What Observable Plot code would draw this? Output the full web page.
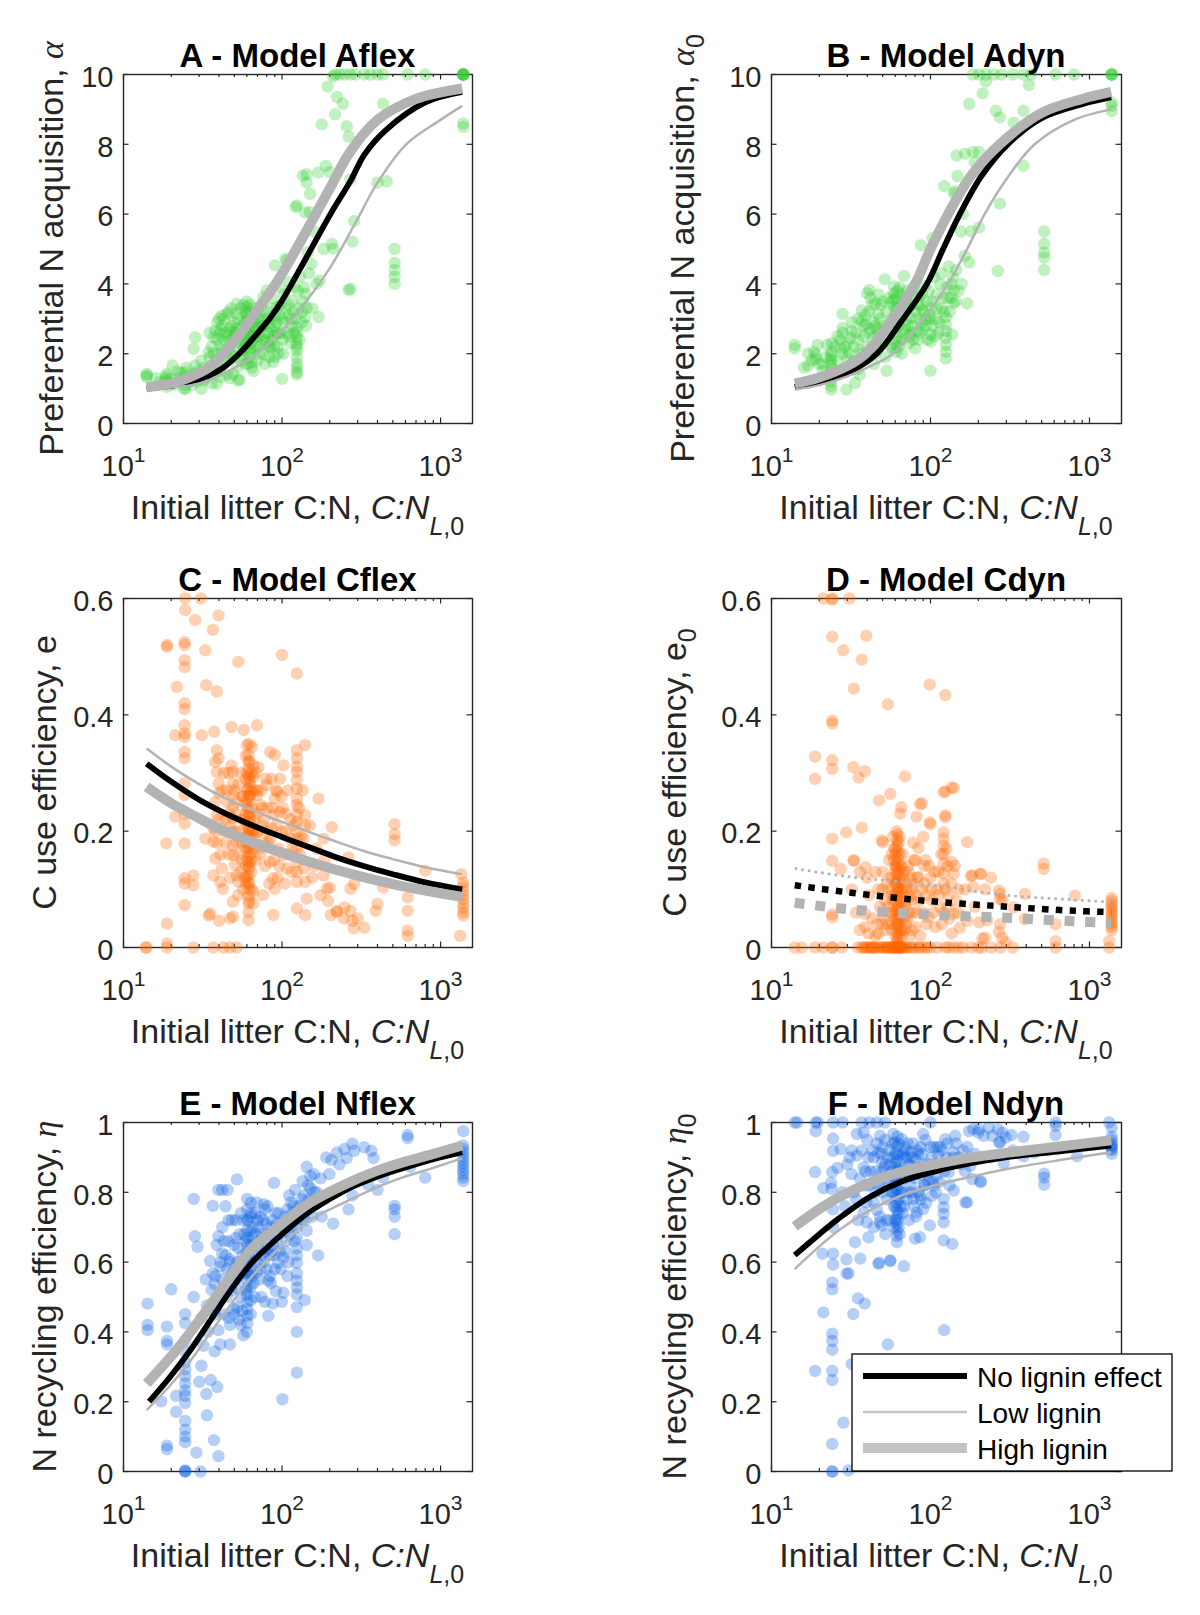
<!DOCTYPE html>
<html><head><meta charset="utf-8">
<script src="https://cdn.jsdelivr.net/npm/d3@7"></script>
<script src="https://cdn.jsdelivr.net/npm/@observablehq/plot@0.6"></script>
<style>
body{margin:0;background:#fff;}
#root{position:relative;width:1200px;height:1615px;overflow:hidden;background:#fff;}
.panel{position:absolute;width:600px;height:540px;}
</style></head><body><div id="root"></div>
<script>
// ---------- tick values ----------
const xTicksMajor = [10, 100, 1000];
const xTicksMinor = [20,30,40,50,60,70,80,90,200,300,400,500,600,700,800,900];
const yTicksAlpha = [0,2,4,6,8,10];
const yTicksE = [0,0.2,0.4,0.6];
const yTicksEta = [0,0.2,0.4,0.6,0.8,1];

// ---------- panel titles ----------
const titles = ["A - Model Aflex","B - Model Adyn","C - Model Cflex","D - Model Cdyn","E - Model Nflex","F - Model Ndyn"];
const legendLabels = ["No lignin effect","Low lignin","High lignin"];

// ---------- scatter data [C:N, value] ----------
const aflexPts = [[14,1.42],[14,1.33],[14,1.38],
[18.7,1.42],[18.5,1.28],[18.6,1.35],[20.4,1.66],[19.5,1.14],[18.8,1.05],[18.8,1.2],
[24.4,1.47],[24,1.23],[24.2,0.99],[24.5,1.1],[24.5,1.35],[24.5,1.0],[23,1.45],
[28.3,1.66],[27.7,1.42],[27.7,2.14],[28.3,2.47],[31,0.99],[31.9,1.23],[29.3,1.5],[30.5,1.3],
[34.4,2.04],[36,1.66],[37,2.47],[37.9,2.66],[36,1.14],[38.8,1.14],[35,1.9],
[40.8,1.33],[40.8,2.0],[40.8,2.23],[40.8,2.57],[41.7,3.09],[44.9,3.14],[43.8,1.76],[42,2.8],[40,3.0],[43,2.4],[41,1.6],
[47,2.71],[47,2.38],[48,2.0],[49,2.62],[49,1.42],[51.8,3.14],[51.8,3.43],[53,1.23],[55.7,1.8],[47,1.3],[50,2.9],[52,2.2],[54,1.26],
[60,3.33],[60,3.14],[60,2.95],[61.5,2.76],[60.5,2.57],[62.8,2.28],[62.8,2.0],[64.5,1.76],[64.5,1.61],[67.8,2.14],[69.5,2.47],[58,2.5],[60,3.5],[62,3.2],[63,2.9],[59,2.3],[57,1.9],[61,1.7],[65,2.6],[66,3.0],
[73,3.14],[73,2.76],[74.5,2.33],[76,3.62],[76,2.0],[80,3.81],[84,2.76],[84,2.19],[88,1.76],[90.3,4.53],[93,3.33],[95.5,2.57],[100,1.28],[102,2.0],[97,3.9],[78,1.7],[82,3.0],[86,2.4],[70,1.8],[92,2.9],
[107,4.67],[112,4.05],[116,3.52],[105,4.72],[110,3.1],[108,2.6],[113,2.3],
[124,2.76],[124,2.47],[124,2.28],[124,2.09],[124,1.9],[124,1.71],[124,1.47],[124,1.4],[124,2.6],[124,2.2],[124,1.6],
[140,3.05],[143,3.33],[140,3.72],[153,4.57],[150,6.06],[170,3.05],[173,4.1],[183,5.0],[206,5.15],[270,3.86],[124,6.25],[140,6.05],[150,6.58],[130,4.2],[135,3.5],[145,4.9],[160,5.5],[165,4.0],
[122,6.2],[143,7.14],[169,7.19],[189,7.38],[178,8.57],[143,6.9],[210,9.95],[194,9.65],[222,9.36],[242,9.16],[216,8.86],[256,8.52],[263,8.22],[270,7.0],[285,5.8],[263,3.83],[434,9.16],[457,6.94],[400,6.9],[278,5.21],[210,5.01],[135,7.1],[200,7.2],
[216,10],[248,10],[270,10],[330,10],[400,10],[434,10],[620,10],[800,10],[230,10],[290,10],[360,10],
[513,4.0],[513,4.2],[513,4.4],[513,4.6],[513,5.0],
[1390,10],[1390,10],[1390,10],[1390,10],[1390,10],[1390,8.5],[1390,8.6],[1390,10],
[36,2.2],[38,1.8],[39,2.9],[42,2.1],[44,2.6],[46,3.2],[45,1.9],[48,2.8],[50,2.5],[52,2.7],[55,3.3],[56,2.4],[57,2.1],[58,2.9],[59,3.2],[61,2.4],[62,1.9],[64,2.3],[65,2.9],[67,3.3],[68,2.7],[70,2.2],[71,3.0],[72,2.5],[75,2.8],[77,2.4],[79,3.2],[81,2.6],[83,2.2],[86,3.3],[88,2.5],[90,2.8],[94,2.2],[96,3.1],[99,2.6],[104,2.9],[106,3.3],[115,2.8],[118,3.2],[120,3.9],[127,3.3],[133,2.9],[138,3.9],[148,4.3],[155,3.3],
[16,1.3],[17,1.2],[21,1.1],[22,1.3],[26,1.2],[27,1.1],[29,1.2],[33,1.3],[32,1.6],[34,1.5],
[37,2.0],[39,2.4],[41,2.7],[43,3.0],[45,2.5],[46,2.1],[48,3.3],[50,1.9],[51,2.6],[53,3.0],[54,2.3],[56,2.8],[57,3.4],[58,2.2],[59,2.7],[61,3.0],[62,2.6],[63,3.4],[64,2.1],[66,2.5],[67,2.9],[69,3.2],[70,2.6],[72,2.0],[74,3.4],[76,2.8],[78,3.0],[80,2.3],[82,2.6],[85,2.9],[87,3.6],[89,2.2],[91,3.1],[93,2.6],[98,3.4],[101,2.4],[103,3.7],[109,3.4],[111,2.5],[114,3.0],[119,2.6],[121,3.0],[126,3.8],[129,2.4],[134,3.2],[142,2.8],[100,3.0],[95,2.0],[90,1.9],[83,1.9],[66,1.5],[59,1.7],[52,1.6],[45,1.4],[38,1.5],[31,1.8],[25,1.6],[22,1.5],[20,1.3],[35,2.6]];

const adynPts = [[14,2.25],[14,2.15],
[19,1.95],[18.5,2.05],[17,1.66],[19.5,2.25],[18,1.8],[19,1.85],
[23.7,1.86],[23.7,1.76],[23.7,1.95],[23.7,1.66],[23.7,1.07],[23.7,0.97],[22.4,2.25],[23.7,2.05],[23.7,1.55],[23.7,1.2],[21,1.5],
[28,3.14],[28,2.74],[27.3,2.15],[29.6,0.97],[33.5,1.16],[35,1.56],[31.3,2.45],[32,2.65],[28,2.6],[30,1.9],[26,1.4],[33,1.8],[36,1.4],
[37,3.24],[37,2.94],[39,2.84],[40,3.73],[41.3,3.83],[44.8,3.44],[47,3.14],[43.7,2.45],[46,2.15],[53,1.51],[51.6,4.13],[38,2.5],[42,2.7],[45,2.0],[40,2.2],[48,2.6],[50,2.3],[52,1.9],[44,1.7],
[59,3.93],[59,3.73],[59,3.53],[59,3.34],[61,2.74],[61,2.25],[61,2.05],[68,4.23],[68,3.44],[70,2.94],[76,3.04],[80,2.15],[83,2.65],[85,3.63],[89,3.24],[92,3.93],[60,3.1],[60,2.9],[62,2.5],[63,2.35],[58,2.15],[65,3.7],[72,3.3],[75,2.6],[78,2.4],[66,2.0],[88,2.9],[95,3.5],
[87,5.11],[100,1.51],[100,2.35],[100,2.55],[103,5.31],[98,3.0],[105,4.2],[110,3.7],
[125,3.04],[125,2.84],[125,2.65],[125,2.45],[125,2.25],[125,2.05],[125,1.86],[122,6.8],[140,6.6],[143,6.65],[140,3.83],[140,3.44],[137,2.55],[148,7.09],[130,4.5],[135,4.0],[120,3.6],
[170,3.44],[175,4.62],[180,5.51],[202,5.61],[146,7.68],[165,7.73],[185,7.78],[202,7.78],[190,7.48],[207,7.19],[175,9.16],[213,9.46],[258,8.96],[273,8.77],[333,8.62],[384,8.96],[384,7.38],[305,8.17],[273,6.3],[265,4.37],[416,9.7],[223,9.8],[155,5.5],[160,6.0],
[185,10],[202,10],[223,10],[250,10],[280,10],[330,10],[384,10],[430,10],[612,10],[800,10],
[519,5.5],[519,5.15],[519,4.9],[519,4.75],[519,4.4],
[1380,10],[1380,10],[1380,10],[1380,10],[1380,9.2],[1380,9.1],[1380,8.95],
[36,2.1],[38,2.8],[41,3.2],[43,2.2],[45,2.8],[47,2.4],[49,3.4],[51,2.8],[54,2.5],[55,3.6],[57,3.0],[58,2.6],[60,3.6],[62,3.3],[63,2.8],[64,3.9],[66,2.4],[67,3.1],[69,2.7],[71,3.8],[73,2.3],[74,3.4],[77,2.8],[79,3.6],[82,3.0],[84,2.4],[87,3.4],[90,2.7],[93,3.0],[96,2.4],[101,3.3],[104,2.8],[108,3.0],[112,2.6],[115,4.0],[118,3.3],[128,3.6],[132,3.2],[145,4.4],[150,3.8],[20,1.7],[22,1.9],[25,2.2],[26,1.8],[27,2.4],[29,2.2],[31,2.0],[34,2.6],
[35,2.4],[37,2.0],[39,3.1],[41,2.6],[43,3.4],[44,2.9],[46,2.7],[48,3.0],[50,3.5],[52,2.7],[53,3.2],[56,2.2],[57,3.5],[59,2.9],[61,3.3],[62,3.8],[63,2.2],[65,3.2],[67,3.5],[68,2.6],[70,3.6],[72,2.8],[74,2.5],[76,3.4],[78,3.9],[80,3.2],[83,3.4],[86,2.6],[88,3.7],[91,3.2],[94,2.8],[97,3.8],[99,3.1],[103,3.5],[107,2.5],[110,3.3],[113,2.9],[117,4.3],[122,3.2],[127,3.9],[134,3.6],[138,4.2],[144,3.5],[157,4.0],[164,4.8],[24,2.3],[26,2.5],[28,2.0],[30,2.3],[32,2.9],[33,2.2],[17,2.0],[21,1.7],[16,1.6],[35,3.0],[42,3.6],[47,3.7]];

const cflexPts = [[14,0],[13.8,0],[18.8,0.007],[18.8,0],[18.8,0.041],[18.6,0.179],[18.8,0.517],[18.8,0.52],
[21.2,0.365],[21.7,0.448],[21.2,0.225],
[24.5,0.6],[24.5,0.58],[24.3,0.525],[24.3,0.52],[24.3,0.494],[24.3,0.482],[24.3,0.42],[24.3,0.41],[24.3,0.382],[24.3,0.368],[24.3,0.362],[24.3,0.336],[24.3,0.325],[24.3,0.282],[24.3,0.262],[24.3,0.213],[24.3,0.179],[24.3,0.119],[24.3,0.073],[24.3,0.11],[24.3,0.23],
[27.6,0.124],[27.6,0.107],[27.6,0],[28.3,0.563],[30.8,0.6],[31.2,0.365],[32.8,0.511],[33.3,0.451],[32.8,0.187],[35.2,0.058],[36.6,0.546],[36.9,0],[37.3,0.371],[38.8,0.44],[39.8,0.571],
[38.8,0.339],[39.8,0.325],[37.9,0.319],[38.8,0.302],[39.8,0.282],[37.9,0.25],[38.8,0.227],[36.9,0.205],[36.9,0.182],[37.9,0.153],[36.9,0.124],[41.7,0.136],[40.8,0.113],[42.3,0.101],[42.7,0],[47,0],[51.8,0],[47,0.05],[34.5,0.055],[40,0.046],[40,0.265],[38,0.2],
[48,0.379],[53,0.491],[57.4,0.374],[48,0.313],[49,0.302],[49,0.282],[49,0.262],[49,0.242],[49,0.222],[48,0.199],[49,0.176],[49,0.159],[50.5,0.142],[51.8,0.124],[53,0.113],[49,0.079],[49,0.053],[45,0.27],[46,0.23],[52,0.25],[55,0.2],[44,0.18],[54,0.16],
[61.5,0.331],[61.5,0.319],[61.5,0.308],[61.5,0.296],[61.5,0.285],[61.5,0.273],[61.5,0.262],[61.5,0.25],[61.5,0.239],[61.5,0.228],[61.5,0.216],[61.5,0.205],[61.5,0.193],[61.5,0.182],[61.5,0.17],[61.5,0.159],[61.5,0.147],[61.5,0.136],[61.5,0.124],[61.5,0.113],[61.5,0.101],[61.5,0.09],[61.5,0.076],[61.5,0.061],[61.5,0.047],[60,0.3],[60,0.27],[60,0.24],[60,0.21],[60,0.18],[63,0.26],[63,0.22],[63,0.19],[63,0.16],[63,0.28],
[60,0.348],[64.5,0.345],[66,0.313],[66,0.293],[69.5,0.382],[69.5,0.262],[73,0.245],[69.5,0.199],[66,0.096],[66,0.076],[76,0.09],[80,0.279],[84,0.336],[90,0.331],[90,0.256],[93,0.268],[88,0.228],[86,0.205],[84,0.187],[84,0.147],[88,0.119],[90,0.101],[88,0.056],[102,0.313],[100,0.503],[97,0.233],[100,0.199],[102,0.159],[107,0.136],[112,0.187],[70,0.23],[72,0.17],[75,0.21],[78,0.14],[80,0.2],[68,0.15],[95,0.17],[104,0.11],
[124,0.339],[124,0.325],[124,0.311],[124,0.302],[124,0.288],[124,0.273],[124,0.256],[124,0.245],[124,0.228],[124,0.216],[124,0.199],[124,0.187],[124,0.17],[124,0.147],[124,0.13],[124,0.113],[124,0.471],[124,0.067],
[140,0.348],[140,0.228],[140,0.21],[137,0.187],[137,0.136],[140,0.113],[143,0.084],[140,0.056],[130,0.16],
[170,0.256],[183,0.187],[183,0.124],[192,0.101],[206,0.207],[203,0.056],[221,0.061],[245,0.05],[270,0.101],[284,0.033],[300,0.05],[160,0.14],[175,0.09],
[200,0.103],[222,0.063],[248,0.069],[263,0.155],[270,0.063],[278,0.046],[285,0.109],[330,0.034],[400,0.075],[390,0.063],[434,0.103],[513,0.212],[513,0.195],[513,0.184],[620,0.086],[620,0.063],[620,0.029],[620,0.02],[800,0.132],[1350,0.126],
[1390,0.112],[1390,0.105],[1390,0.098],[1390,0.09],[1390,0.083],[1390,0.075],[1390,0.068],[1390,0.06],[1390,0.055],[1330,0.02],
[55,0.3],[57,0.26],[58,0.22],[59,0.19],[56,0.15],[58,0.12],[64,0.3],[65,0.24],[65,0.2],[66,0.17],[64,0.13],[67,0.27],[62,0.35],[44,0.22],[43,0.3],[46,0.16],[47,0.12],[51,0.2],[53,0.28],[71,0.31],[74,0.27],[77,0.18],[81,0.24],[83,0.11],[86,0.29],[92,0.21],[96,0.14],[99,0.26],[105,0.23],[110,0.16],[115,0.13],[118,0.21],[128,0.24],[132,0.19],[135,0.27],[150,0.21],[155,0.12],[165,0.17],[185,0.15],[195,0.08],
[59,0.33],[59,0.29],[59,0.25],[59,0.23],[59,0.17],[59,0.14],[59,0.11],[62,0.32],[62,0.29],[62,0.26],[62,0.23],[62,0.2],[62,0.17],[62,0.14],[62,0.11],[62,0.08],[64,0.27],[64,0.21],[64,0.18],[64,0.15],[64,0.1],[60,0.15],[60,0.12],[56,0.26],[56,0.22],[56,0.18],[67,0.22],[67,0.19],[68,0.3],[70,0.27],[71,0.2],[73,0.16],[75,0.24],[77,0.22],[79,0.29],[82,0.18],[87,0.24],[89,0.15],[92,0.27],[94,0.12],[97,0.29],[101,0.24],[106,0.2],[109,0.27],[113,0.22],[116,0.17],[50,0.27],[51,0.23],[47,0.21],[45,0.25],[43,0.2],[41,0.16],[40,0.22],[42,0.27],[39,0.18],[46,0.3],[52,0.18],[55,0.13],[57,0.1],[53,0.09]];

const cdynPts = [[21.2,0.6],[24.1,0.6],[24.1,0.598],[30.9,0.6],[24.1,0.534],[28.3,0.511],[39.5,0.536],[37,0.495],[33,0.445],[53.9,0.418],[99,0.452],[124,0.434],
[24.1,0.39],[24.1,0.385],[24.1,0.322],[24.1,0.307],[18.8,0.328],[18.8,0.29],[32.7,0.31],[38.6,0.303],[35.3,0.292],[69,0.294],[47.5,0.253],[55.9,0.264],[124,0.268],[140,0.274],[65.6,0.241],[86,0.246],[81.6,0.225],[100,0.212],[124,0.227],[124,0.224],[24.1,0.187],[29.5,0.198],[37,0.206],[50.2,0.181],[170,0.181],[24.1,0.149],[27.2,0.135],[33,0.149],[39,0.138],[515,0.144],[515,0.135],[180,0.123],[207,0.126],[24.1,0.057],[24.1,0.052],
[49.5,0.184],[64.5,0.23],[88,0.248],[99,0.215],[121,0.267],[136,0.275],[121,0.198],[121,0.187],[121,0.175],[121,0.161],[121,0.144],[121,0.127],[136,0.147],[140,0.127],[183,0.124],[206,0.127],[186,0.104],[270,0.098],[284,0.081],[227,0.047],[270,0.027],[297,0.009],[212,0.015],[84,0.171],[80,0.15],[93,0.15],[84,0.121],[76,0.081],[80,0.035],[102,0.081],[97,0.052],[107,0.035],[140,0.058],[136,0.024],[38.8,0.058],[38.8,0.035],[40.8,0.024],[49.5,0.041],[47,0.024],[32.8,0.15],
[62,0.195],[62,0.185],[62,0.175],[62,0.165],[62,0.155],[62,0.145],[62,0.135],[62,0.125],[62,0.115],[62,0.105],[62,0.095],[62,0.085],[62,0.075],[62,0.065],[62,0.055],[62,0.045],[62,0.035],[62,0.025],[62,0.015],[62,0.005],[60,0.17],[60,0.14],[60,0.11],[60,0.08],[60,0.05],[60,0.02],[64,0.16],[64,0.12],[64,0.09],[64,0.06],[64,0.03],[64,0],[61,0],[63,0],[58,0.12],[58,0.08],[58,0.04],[66,0.1],[66,0.07],[66,0.14],[57,0.16],[68,0.05],
[110,0.1],[115,0.07],[130,0.09],[150,0.1],[145,0.08],[100,0.12],[95,0.09],[90,0.06],[85,0.08],[75,0.12],[70,0.1],[72,0.14],[78,0.18],[90,0.19],[121,0.11],[121,0.06],[50,0.1],[45,0.13],
[14,0],[15.5,0],[18.8,0],[21,0],[24.1,0],[24.1,0],[27.7,0],[35,0],[37,0],[39,0],[41,0],[43,0],[45,0],[47,0],[50,0],[53,0],[56,0],[67,0],[70,0],[75,0],[80,0],[87,0],[95,0],[110,0],[124,0],[140,0],[160,0],[180,0],[210,0],[240,0],[330,0],[612,0],[1330,0],
[393,0.049],[612,0.04],[612,0.011],[274,0.083],[274,0.092],[333,0.069],[393,0.092],[810,0.089],[1330,0.011],
[1380,0.085],[1380,0.08],[1380,0.075],[1380,0.07],[1380,0.065],[1380,0.06],[1380,0.055],[1380,0.05],[1380,0.045],[1380,0.04],[1380,0.035],[1380,0.03],
[202,0.043],[220,0.017],[170,0.046],[153,0.034],[274,0.04],[282,0.017],[220,0.1],[240,0.12],
[55,0.1],[56,0.06],[57,0.03],[59,0.15],[59,0.09],[59,0],[60,0],[62,0],[62,0],[65,0],[66,0.03],[67,0.12],[68,0.09],[69,0.07],[70,0.04],[71,0.11],[73,0.06],[74,0.09],[76,0.03],[78,0.11],[82,0.06],[86,0.02],[92,0.11],[98,0.14],[104,0.06],[112,0.13],[118,0.04],[124,0.1],[128,0.14],[131,0.05],[150,0.06],[165,0.1],[190,0.07],[50,0],[52,0.03],[54,0.07],[44,0],[46,0.04],[48,0],[55,0],[57,0],[58,0],[63,0.02],[61,0.06],[63,0.1],[61,0.14],[63,0.18],[61,0.2],[38,0],[40,0],[42,0],[44,0],
[58,0.19],[59,0.17],[60,0.16],[60,0.13],[61,0.11],[61,0.09],[61,0.04],[62,0.01],[63,0.13],[63,0.07],[63,0.04],[64,0.19],[64,0.14],[65,0.11],[65,0.08],[65,0.05],[66,0.02],[57,0.09],[57,0.06],[56,0.12],[55,0.15],[54,0.04],[53,0.11],[52,0.08],[51,0.05],[50,0.13],[67,0.16],[68,0.13],[69,0.03],[71,0.08],[72,0.05],[73,0.13],[74,0.02],[76,0.1],[77,0.06],[79,0.15],[81,0.09],[83,0.12],[88,0.1],[91,0.14],[94,0.04],[101,0.1],[106,0.13],[113,0.09],[117,0.16],[126,0.17],[129,0.07],[135,0.11],[142,0.14],[48,0.07],[47,0.1],[45,0.02],[43,0.05],[41,0.09],[40,0.12],[36,0.03],[34,0.06],[32,0.1],[36,0.13],[52,0],[54,0],[58,0],[64,0],[66,0],[68,0],[72,0],[78,0],[85,0],[92,0],[100,0],[130,0],[150,0],[200,0],[275,0]];

const nflexPts = [[14.2,0.405],[14.2,0.42],[14.2,0.481],
[18.8,0.415],[18.8,0.374],[18.8,0.364],[18.8,0.074],[18.8,0.064],[20,0.522],[17.3,0.201],[21.5,0.171],[21.5,0.217],
[24.5,0.451],[24.5,0.425],[24.5,0.374],[24.5,0.344],[24.5,0.313],[24.5,0.293],[24.5,0.273],[24.5,0.252],[24.5,0.232],[24.5,0.217],[24.5,0.196],[24.5,0.145],[24.5,0.12],[24.5,0.1],[24.5,0.084],[24.5,0.003],[24.5,0],[24.5,0],
[27.7,0.781],[28.2,0.674],[29.3,0.644],[27.7,0.5],[28.8,0.054],[30.6,0],[30.1,0.257],[31,0.303],[33.3,0.222],[33.6,0.161],[35.5,0.262],[39,0.242],[37.2,0.09],[39.7,0.044],
[36.6,0.761],[39.7,0.807],[42,0.807],[45.3,0.807],[51.9,0.837],[48.3,0.72],[39.7,0.674],[38.7,0.649],[35.2,0.603],[36.6,0.568],[37.6,0.537],[33.6,0.476],[38.7,0.486],[39.7,0.405],[40.8,0.364],[37.6,0.344],[46.9,0.364],[40.8,0.588],[41.9,0.624],[46.9,0.608],[48.3,0.568],[50.9,0.527],[49.8,0.466],[53.6,0.435],[57,0.39],[50.9,0.669],[49.8,0.649],[45,0.5],[43,0.45],[42,0.55],[47,0.42],[52,0.6],
[60.3,0.781],[60.3,0.751],[60.3,0.72],[60.3,0.69],[60.3,0.669],[60.3,0.649],[60.3,0.629],[60.3,0.608],[60.3,0.588],[60.3,0.568],[60.3,0.547],[60.3,0.527],[60.3,0.507],[60.3,0.486],[60.3,0.466],[60.3,0.446],[60.3,0.425],
[63.5,0.77],[63.5,0.73],[63.5,0.69],[63.5,0.65],[63.5,0.61],[63.5,0.57],[63.5,0.53],[63.5,0.49],[63.5,0.45],
[69.2,0.771],[73.3,0.73],[76.8,0.766],[78,0.751],[76.8,0.669],[81.9,0.629],[81.9,0.547],[78,0.486],[81.9,0.446],[89,0.827],[91.4,0.741],[94,0.598],[91.4,0.517],[87.3,0.481],[99.6,0.486],[102,0.512],[102,0.613],[100.6,0.207],[105,0.69],[108,0.751],[111,0.791],[114,0.771],[121,0.807],[70,0.6],[72,0.55],[85,0.7],[88,0.65],[95,0.68],[68,0.68],
[124,0.7],[124,0.669],[124,0.639],[124,0.619],[124,0.598],[124,0.568],[124,0.547],[124,0.527],[124,0.507],[124,0.471],[124,0.4],[124,0.283],
[139,0.491],[143,0.649],[143,0.69],[135,0.751],[135,0.832],[143,0.873],[151,0.847],[159,0.852],[151,0.812],[169,0.619],[178,0.73],[199,0.852],[205,0.893],[222,0.914],[248,0.924],[256,0.898],[278,0.939],[285,0.919],[330,0.929],[366,0.919],[378,0.898],[210,0.71],[263,0.751],[278,0.791],[348,0.822],[400,0.807],[434,0.842],[190,0.9],[230,0.88],
[513,0.761],[513,0.751],[513,0.73],[513,0.68],
[620,0.964],[620,0.955],[644,0.873],[800,0.842],
[1390,0.975],[1390,0.934],[1390,0.924],[1390,0.914],[1390,0.903],[1390,0.893],[1390,0.883],[1390,0.873],[1390,0.863],[1390,0.853],[1390,0.842],[1390,0.832],
[42,0.7],[44,0.62],[45,0.58],[46,0.66],[48,0.52],[50,0.45],[52,0.55],[54,0.68],[55,0.5],[56,0.62],[57,0.72],[58,0.57],[59,0.66],[62,0.62],[64,0.74],[65,0.56],[66,0.7],[67,0.5],[70,0.72],[71,0.64],[73,0.58],[75,0.68],[77,0.6],[79,0.71],[82,0.68],[84,0.56],[86,0.63],[90,0.58],[93,0.71],[97,0.63],[104,0.73],[107,0.66],[110,0.6],[115,0.7],[118,0.76],[128,0.76],[131,0.72],[138,0.79],[148,0.78],[155,0.73],[160,0.8],[40,0.5],[38,0.45],[36,0.52],[34,0.4],[32,0.36],
[41,0.6],[43,0.66],[44,0.52],[46,0.72],[47,0.6],[49,0.55],[51,0.72],[52,0.47],[53,0.64],[54,0.58],[55,0.74],[56,0.46],[57,0.6],[58,0.68],[59,0.52],[61,0.72],[62,0.56],[64,0.6],[65,0.67],[66,0.54],[67,0.62],[68,0.74],[69,0.57],[71,0.7],[72,0.66],[74,0.5],[75,0.62],[76,0.72],[78,0.64],[80,0.58],[81,0.76],[83,0.62],[85,0.54],[87,0.72],[89,0.62],[92,0.66],[95,0.74],[98,0.58],[101,0.7],[105,0.63],[108,0.56],[112,0.68],[116,0.74],[120,0.66],[126,0.73],[133,0.78],[140,0.72],[146,0.82],[152,0.76],[166,0.8],[175,0.84],[185,0.78],[44,0.76],[38,0.56],[35,0.46],[33,0.55],[31,0.44],[46,0.44],[60,0.4],[55,0.42]];

const ndynPts = [[14,1],[19,1],[24.4,1],[28,1],[36.9,1],[41.3,1],[46,1],[51.6,1],[100,1],[612,1],[1330,1],[14.5,1],[19.5,1],
[19,0.975],[18.8,0.858],[21.2,0.812],[23.7,0.827],[24.4,0.954],[24.4,0.919],[27.2,0.924],[24.1,0.858],[24.4,0.751],[24.4,0.7],[24.4,0.624],[24.4,0.593],[20.9,0.624],[29.6,0.608],[30.5,0.568],[24.1,0.542],[24.1,0.522],[21.2,0.456],[24.1,0.395],[24.1,0.374],[24.1,0.349],[18.8,0.288],[24.1,0.288],[24.1,0.262],[28.3,0.14],[24.1,0.079],[24.1,0],[24.1,0],[30.5,0.003],[35,0.496],[38.6,0.481],[32.7,0.451],[32,0.308],[53.9,0.364],[122,0.405],[47.5,0.598],[56,0.603],[68,0.588],
[23.9,0.81],[29.7,0.567],[33.5,0.657],[36.2,0.61],[31.9,0.852],[34.4,0.905],[34.4,0.967],[38,0.971],[40.7,0.9],[38,0.871],[38.8,0.819],[39.7,0.771],[38,0.743],[39.7,0.714],[40.7,0.671],[48.2,0.962],[47,0.914],[49.5,0.886],[49.5,0.857],[48.2,0.714],[49.5,0.705],[47,0.595],[55.7,0.605],[58.4,0.967],[59.8,0.943],[66,0.952],[63.7,0.905],
[61.5,0.933],[61.5,0.91],[61.5,0.89],[61.5,0.87],[61.5,0.85],[61.5,0.83],[61.5,0.81],[61.5,0.79],[61.5,0.77],[61.5,0.75],[61.5,0.73],[61.5,0.71],[61.5,0.69],[61.5,0.675],[61.5,0.657],[60,0.88],[60,0.84],[60,0.8],[60,0.76],[60,0.72],[63,0.86],[63,0.82],[63,0.78],[63,0.74],[63,0.7],[58,0.8],[58,0.85],[65,0.8],[65,0.76],
[69.5,0.929],[76,0.914],[80,0.895],[84,0.91],[74.5,0.848],[78,0.781],[82,0.743],[90,0.752],[86,0.79],[80,0.667],[86,0.671],[99,0.705],[95,0.881],[90,0.967],[97,0.829],[102,0.79],[105,0.929],[112,0.905],[118,0.876],[121,0.781],[121,0.757],[121,0.738],[121,0.714],[121,0.662],[137,0.652],[130,0.857],[140,0.914],[140,0.805],[124,0.952],[143,0.962],[166,0.771],[178,0.876],[186,0.981],[183,0.838],[206,0.829],[216,0.962],[245,0.962],[284,0.971],[270,0.943],[297,0.957],[200,0.971],[70,0.86],[72,0.8],[68,0.9],[88,0.85],[92,0.82],[110,0.85],[105,0.82],
[175,0.975],[202,0.98],[233,0.985],[266,0.98],[323,0.964],[384,0.959],[612,0.99],[612,0.964],[836,0.903],[519,0.853],[519,0.842],[519,0.822],[207,0.832],[170,0.771],[275,0.944],[289,0.883],[384,0.903],[450,0.914],[240,0.9],[330,0.92],
[1380,0.985],[1380,0.96],[1380,0.95],[1380,0.94],[1380,0.935],[1380,0.93],[1380,0.925],[1380,0.92],[1380,0.91],
[42,0.86],[44,0.9],[45,0.8],[46,0.75],[48,0.83],[50,0.93],[52,0.88],[53,0.78],[54,0.84],[55,0.92],[56,0.72],[57,0.86],[58,0.9],[59,0.76],[62,0.96],[64,0.68],[66,0.86],[67,0.74],[70,0.92],[71,0.78],[73,0.88],[75,0.82],[77,0.9],[79,0.76],[82,0.86],[84,0.8],[87,0.93],[90,0.88],[94,0.77],[98,0.86],[102,0.9],[108,0.8],[115,0.93],[126,0.9],[134,0.88],[150,0.9],[160,0.92],[165,0.86],[36,0.84],[34,0.78],[32,0.92],[30,0.88],[28,0.8],[44,0.7],[52,0.68],
[37,0.92],[39,0.86],[40,0.95],[41,0.82],[43,0.92],[44,0.77],[45,0.86],[46,0.94],[47,0.82],[48,0.73],[49,0.91],[50,0.8],[51,0.87],[52,0.95],[53,0.72],[54,0.9],[55,0.82],[56,0.88],[57,0.8],[58,0.94],[59,0.7],[60,0.91],[62,0.72],[63,0.94],[64,0.87],[66,0.8],[67,0.91],[68,0.76],[69,0.84],[71,0.9],[72,0.94],[73,0.72],[74,0.88],[76,0.8],[78,0.94],[80,0.84],[81,0.73],[83,0.92],[85,0.87],[87,0.78],[89,0.91],[91,0.82],[93,0.95],[96,0.85],[100,0.93],[103,0.83],[106,0.88],[110,0.93],[114,0.83],[118,0.92],[122,0.86],[128,0.94],[132,0.82],[138,0.9],[145,0.94],[155,0.88],[170,0.93],[190,0.91],[35,0.72],[33,0.8],[31,0.9],[29,0.76],[26,0.87]];

// ---------- fitted curves [C:N, value] ----------
const aflexNoLig = [[14,1.0],[20,1.08],[26.3,1.18],[35,1.38],[42.8,1.61],[55,2.05],[69.5,2.57],[85,3.05],[100,3.52],[143,4.77],[202,6.0],[271,6.96],[330,7.7],[450,8.4],[800,9.2],[1370,9.5]];
const aflexLow = [[14,1.0],[20,1.04],[26.3,1.09],[35,1.25],[42.8,1.42],[55,1.7],[69.5,2.0],[85,2.35],[100,2.66],[143,3.52],[202,4.48],[296,5.82],[400,6.9],[607,8.0],[1000,8.7],[1370,9.1]];
const aflexHigh = [[14,1.04],[20,1.15],[26.3,1.33],[35,1.62],[42.8,2.0],[55,2.6],[69.5,3.24],[85,3.8],[100,4.29],[143,5.53],[202,6.77],[270,7.8],[400,8.7],[700,9.3],[1370,9.6]];

const adynNoLig = [[14,1.05],[20,1.2],[30,1.45],[46,2.0],[65,2.9],[95,4.0],[120,5.0],[153,6.0],[210,7.1],[306,8.0],[500,8.75],[900,9.15],[1370,9.35]];
const adynLow = [[14,0.97],[20,1.1],[30,1.35],[40,1.6],[58,2.0],[90,3.0],[129,4.0],[170,5.0],[219,6.0],[300,7.0],[452,8.0],[800,8.7],[1370,9.0]];
const adynHigh = [[14,1.15],[20,1.32],[30,1.65],[39,2.0],[55,2.85],[80,4.0],[100,5.0],[129,6.0],[180,7.1],[273,8.0],[500,8.9],[900,9.3],[1370,9.5]];

const cflexNoLig = [[14,0.316],[20,0.285],[30,0.254],[42.8,0.232],[65,0.21],[100,0.19],[150,0.172],[210,0.157],[327,0.14],[500,0.126],[800,0.112],[1370,0.1]];
const cflexLow = [[14,0.342],[20,0.311],[30,0.281],[42.8,0.258],[65,0.236],[100,0.216],[150,0.198],[210,0.184],[327,0.166],[500,0.152],[800,0.138],[1370,0.126]];
const cflexHigh = [[14,0.276],[20,0.248],[30,0.222],[42.8,0.201],[65,0.181],[100,0.163],[150,0.147],[210,0.135],[327,0.121],[500,0.109],[800,0.098],[1370,0.087]];

const cdynNoLig = [[14,0.107],[30,0.095],[87,0.081],[289,0.0705],[810,0.063],[1370,0.061]];
const cdynLow = [[14,0.136],[30,0.122],[87,0.1095],[311,0.0894],[800,0.082],[1370,0.078]];
const cdynHigh = [[14,0.077],[30,0.066],[90,0.057],[303,0.051],[800,0.045],[1370,0.042]];

const nflexNoLig = [[14.5,0.2],[20,0.275],[27,0.354],[35,0.43],[47,0.517],[65,0.6],[100,0.68],[150,0.745],[248,0.805],[400,0.845],[571,0.868],[900,0.895],[1370,0.915]];
const nflexLow = [[14,0.176],[20,0.25],[27,0.323],[35,0.395],[47,0.476],[65,0.56],[100,0.649],[150,0.72],[248,0.771],[400,0.815],[571,0.842],[900,0.87],[1370,0.898]];
const nflexHigh = [[14,0.252],[20,0.33],[27,0.405],[35,0.475],[47,0.557],[65,0.64],[100,0.71],[150,0.77],[248,0.822],[400,0.862],[571,0.885],[900,0.91],[1370,0.934]];

const ndynNoLig = [[14,0.62],[20,0.68],[26.3,0.724],[42,0.788],[69.5,0.835],[120,0.866],[183,0.884],[296,0.9],[666,0.918],[1370,0.934]];
const ndynLow = [[14,0.58],[20,0.645],[26.3,0.69],[42.8,0.752],[69.5,0.795],[120,0.826],[183,0.845],[296,0.866],[666,0.893],[1370,0.915]];
const ndynHigh = [[14,0.702],[20,0.752],[26.3,0.785],[42.8,0.83],[69.5,0.862],[120,0.885],[183,0.9],[296,0.913],[666,0.932],[1370,0.949]];

// ---------- styling ----------
const GREEN = "#32cd32", ORANGE = "#ff6600", BLUE = "#0a5fe1";
const AXIS = "#262626", GREY = "#b3b3b3";
const FONT = "'Liberation Sans', Arial, Helvetica, sans-serif";
const SERIF = "'Liberation Serif', 'DejaVu Serif', serif";

const xLabelParts = [{t:"Initial litter C:N, "},{t:"C:N", it:true},{t:"L", it:true, sub:true},{t:",0", sub2:true}];

const panels = [
  {title:titles[0], pts:aflexPts, color:GREEN, dom:[0,10], yt:yTicksAlpha, curves:[aflexNoLig,aflexLow,aflexHigh], dashed:false, col:0,row:0, ylOff:60,
   yl:[{t:"Preferential N acquisition, "},{t:"α", it:true, serif:true}]},
  {title:titles[1], pts:adynPts, color:GREEN, dom:[0,10], yt:yTicksAlpha, curves:[adynNoLig,adynLow,adynHigh], dashed:false, col:1,row:0, ylOff:77,
   yl:[{t:"Preferential N acquisition, "},{t:"α", it:true, serif:true},{t:"0", sub:true}]},
  {title:titles[2], pts:cflexPts, color:ORANGE, dom:[0,0.6], yt:yTicksE, curves:[cflexNoLig,cflexLow,cflexHigh], dashed:false, col:0,row:1, ylOff:67,
   yl:[{t:"C use efficiency, e"}]},
  {title:titles[3], pts:cdynPts, color:ORANGE, dom:[0,0.6], yt:yTicksE, curves:[cdynNoLig,cdynLow,cdynHigh], dashed:true, col:1,row:1, ylOff:85,
   yl:[{t:"C use efficiency, e"},{t:"0", sub:true}]},
  {title:titles[4], pts:nflexPts, color:BLUE, dom:[0,1], yt:yTicksEta, curves:[nflexNoLig,nflexLow,nflexHigh], dashed:false, col:0,row:2, ylOff:67,
   yl:[{t:"N recycling efficiency, "},{t:"η", it:true, serif:true}]},
  {title:titles[5], pts:ndynPts, color:BLUE, dom:[0,1], yt:yTicksEta, curves:[ndynNoLig,ndynLow,ndynHigh], dashed:false, col:1,row:2, ylOff:85, legend:true,
   yl:[{t:"N recycling efficiency, "},{t:"η", it:true, serif:true},{t:"0", sub:true}]}
];

function addParts(textSel, parts, subSize, subDy) {
  for (const p of parts) {
    const ts = textSel.append("tspan").text(p.t);
    if (p.it) ts.attr("font-style", "italic");
    if (p.serif) ts.attr("font-family", SERIF);
    if (p.sub) ts.attr("font-size", subSize).attr("dy", subDy);
    if (p.sub2) ts.attr("font-size", subSize);
  }
}

const W = 600, H = 540, MT = 74, MB = 117;
const TICK_FS = 29, LABEL_FS = 34, TITLE_FS = 33;
const root = document.getElementById("root");

for (const p of panels) {
  const ml = p.col === 0 ? 123 : 171;
  const mr = p.col === 0 ? 128 : 79;
  const fw = W - ml - mr, fh = H - MT - MB;
  const tl = 5.5, ml2 = 3;
  const X = d => d[0], Y = d => d[1];
  const lineStyles = p.dashed ? [
    {stroke:"#000", strokeWidth:6.5, strokeDasharray:"6.5 7.3"},
    {stroke:GREY, strokeWidth:2.7, strokeDasharray:"2.7 4"},
    {stroke:GREY, strokeWidth:10, strokeDasharray:"10 10.8"}
  ] : [
    {stroke:"#000", strokeWidth:5.8},
    {stroke:GREY, strokeWidth:2.5},
    {stroke:GREY, strokeWidth:10}
  ];
  const marks = [
    Plot.frame({stroke: AXIS, strokeWidth: 1.4}),
    Plot.tickX(xTicksMajor, {x: d => d, insetTop: fh - tl, stroke: AXIS, strokeWidth: 1.2}),
    Plot.tickX(xTicksMajor, {x: d => d, insetBottom: fh - tl, stroke: AXIS, strokeWidth: 1.2}),
    Plot.tickX(xTicksMinor, {x: d => d, insetTop: fh - ml2, stroke: AXIS, strokeWidth: 1.2}),
    Plot.tickX(xTicksMinor, {x: d => d, insetBottom: fh - ml2, stroke: AXIS, strokeWidth: 1.2}),
    Plot.tickY(p.yt, {y: d => d, insetRight: fw - tl, stroke: AXIS, strokeWidth: 1.2}),
    Plot.tickY(p.yt, {y: d => d, insetLeft: fw - tl, stroke: AXIS, strokeWidth: 1.2}),
    Plot.axisX(xTicksMajor, {tickSize: 0, tickPadding: 32, fontSize: TICK_FS, tickFormat: d => "10^" + Math.round(Math.log10(d)), label: null}),
    Plot.axisY(p.yt, {tickSize: 0, tickPadding: 10, fontSize: TICK_FS, tickFormat: d => String(d), label: null, dy: 3}),
    Plot.dot(p.pts, {x: X, y: Y, r: 6.2, fill: p.color, fillOpacity: 0.3, stroke: "none"})
  ];
  p.curves.forEach((c, i) => {
    marks.push(Plot.line(c, {x: X, y: Y, curve: "catmull-rom", strokeLinecap: "butt", strokeLinejoin: "round", ...lineStyles[i]}));
  });
  const svg = Plot.plot({
    width: W, height: H,
    marginTop: MT, marginBottom: MB, marginLeft: ml, marginRight: mr,
    x: {type: "log", domain: [10, 1590]},
    y: {domain: p.dom},
    style: {background: "transparent", overflow: "visible", fontFamily: FONT, fontSize: TICK_FS + "px", color: AXIS},
    marks
  });
  const div = document.createElement("div");
  div.className = "panel";
  div.style.left = (p.col * 600) + "px";
  div.style.top = (p.row * 524) + "px";
  div.appendChild(svg);
  root.appendChild(div);

  const s = d3.select(svg);
  // superscript tick labels
  s.selectAll("text").each(function () {
    const m = (this.textContent || "").match(/^10\^(\d)$/);
    if (m) {
      this.textContent = "10";
      d3.select(this).append("tspan").attr("dy", -14).attr("font-size", 21).text(m[1]);
    }
  });
  const cx = ml + fw / 2, cy = MT + fh / 2;
  // title
  s.append("text").attr("x", cx).attr("y", MT - 7).attr("text-anchor", "middle")
    .attr("font-family", FONT).attr("font-weight", "bold").attr("font-size", TITLE_FS).attr("fill", "#000").text(p.title);
  // x label
  const xl = s.append("text").attr("x", cx).attr("y", MT + fh + 96).attr("text-anchor", "middle")
    .attr("font-family", FONT).attr("font-size", LABEL_FS).attr("fill", AXIS);
  addParts(xl, xLabelParts, 25, 16);
  // y label
  const yl = s.append("text").attr("transform", `translate(${ml - p.ylOff},${cy}) rotate(-90)`).attr("text-anchor", "middle")
    .attr("font-family", FONT).attr("font-size", LABEL_FS).attr("fill", AXIS);
  addParts(yl, p.yl, 25, 10);

  if (p.legend) {
    const g = s.append("g");
    const bx = 252, by = 306, bw = 320, bh = 117;
    g.append("rect").attr("x", bx).attr("y", by).attr("width", bw).attr("height", bh)
      .attr("fill", "#fff").attr("stroke", "#000").attr("stroke-width", 1.3);
    const rows = [
      {lab: legendLabels[0], stroke: "#000", w: 5.8, y: 328},
      {lab: legendLabels[1], stroke: "#c4c4c4", w: 2.5, y: 364},
      {lab: legendLabels[2], stroke: "#c4c4c4", w: 10, y: 400}
    ];
    for (const r of rows) {
      g.append("line").attr("x1", 263).attr("x2", 367).attr("y1", r.y).attr("y2", r.y)
        .attr("stroke", r.stroke).attr("stroke-width", r.w);
      g.append("text").attr("x", 377).attr("y", r.y + 11).attr("text-anchor", "start").attr("font-family", FONT)
        .attr("font-size", 28).attr("fill", "#000").text(r.lab);
    }
  }
}
</script></body></html>
